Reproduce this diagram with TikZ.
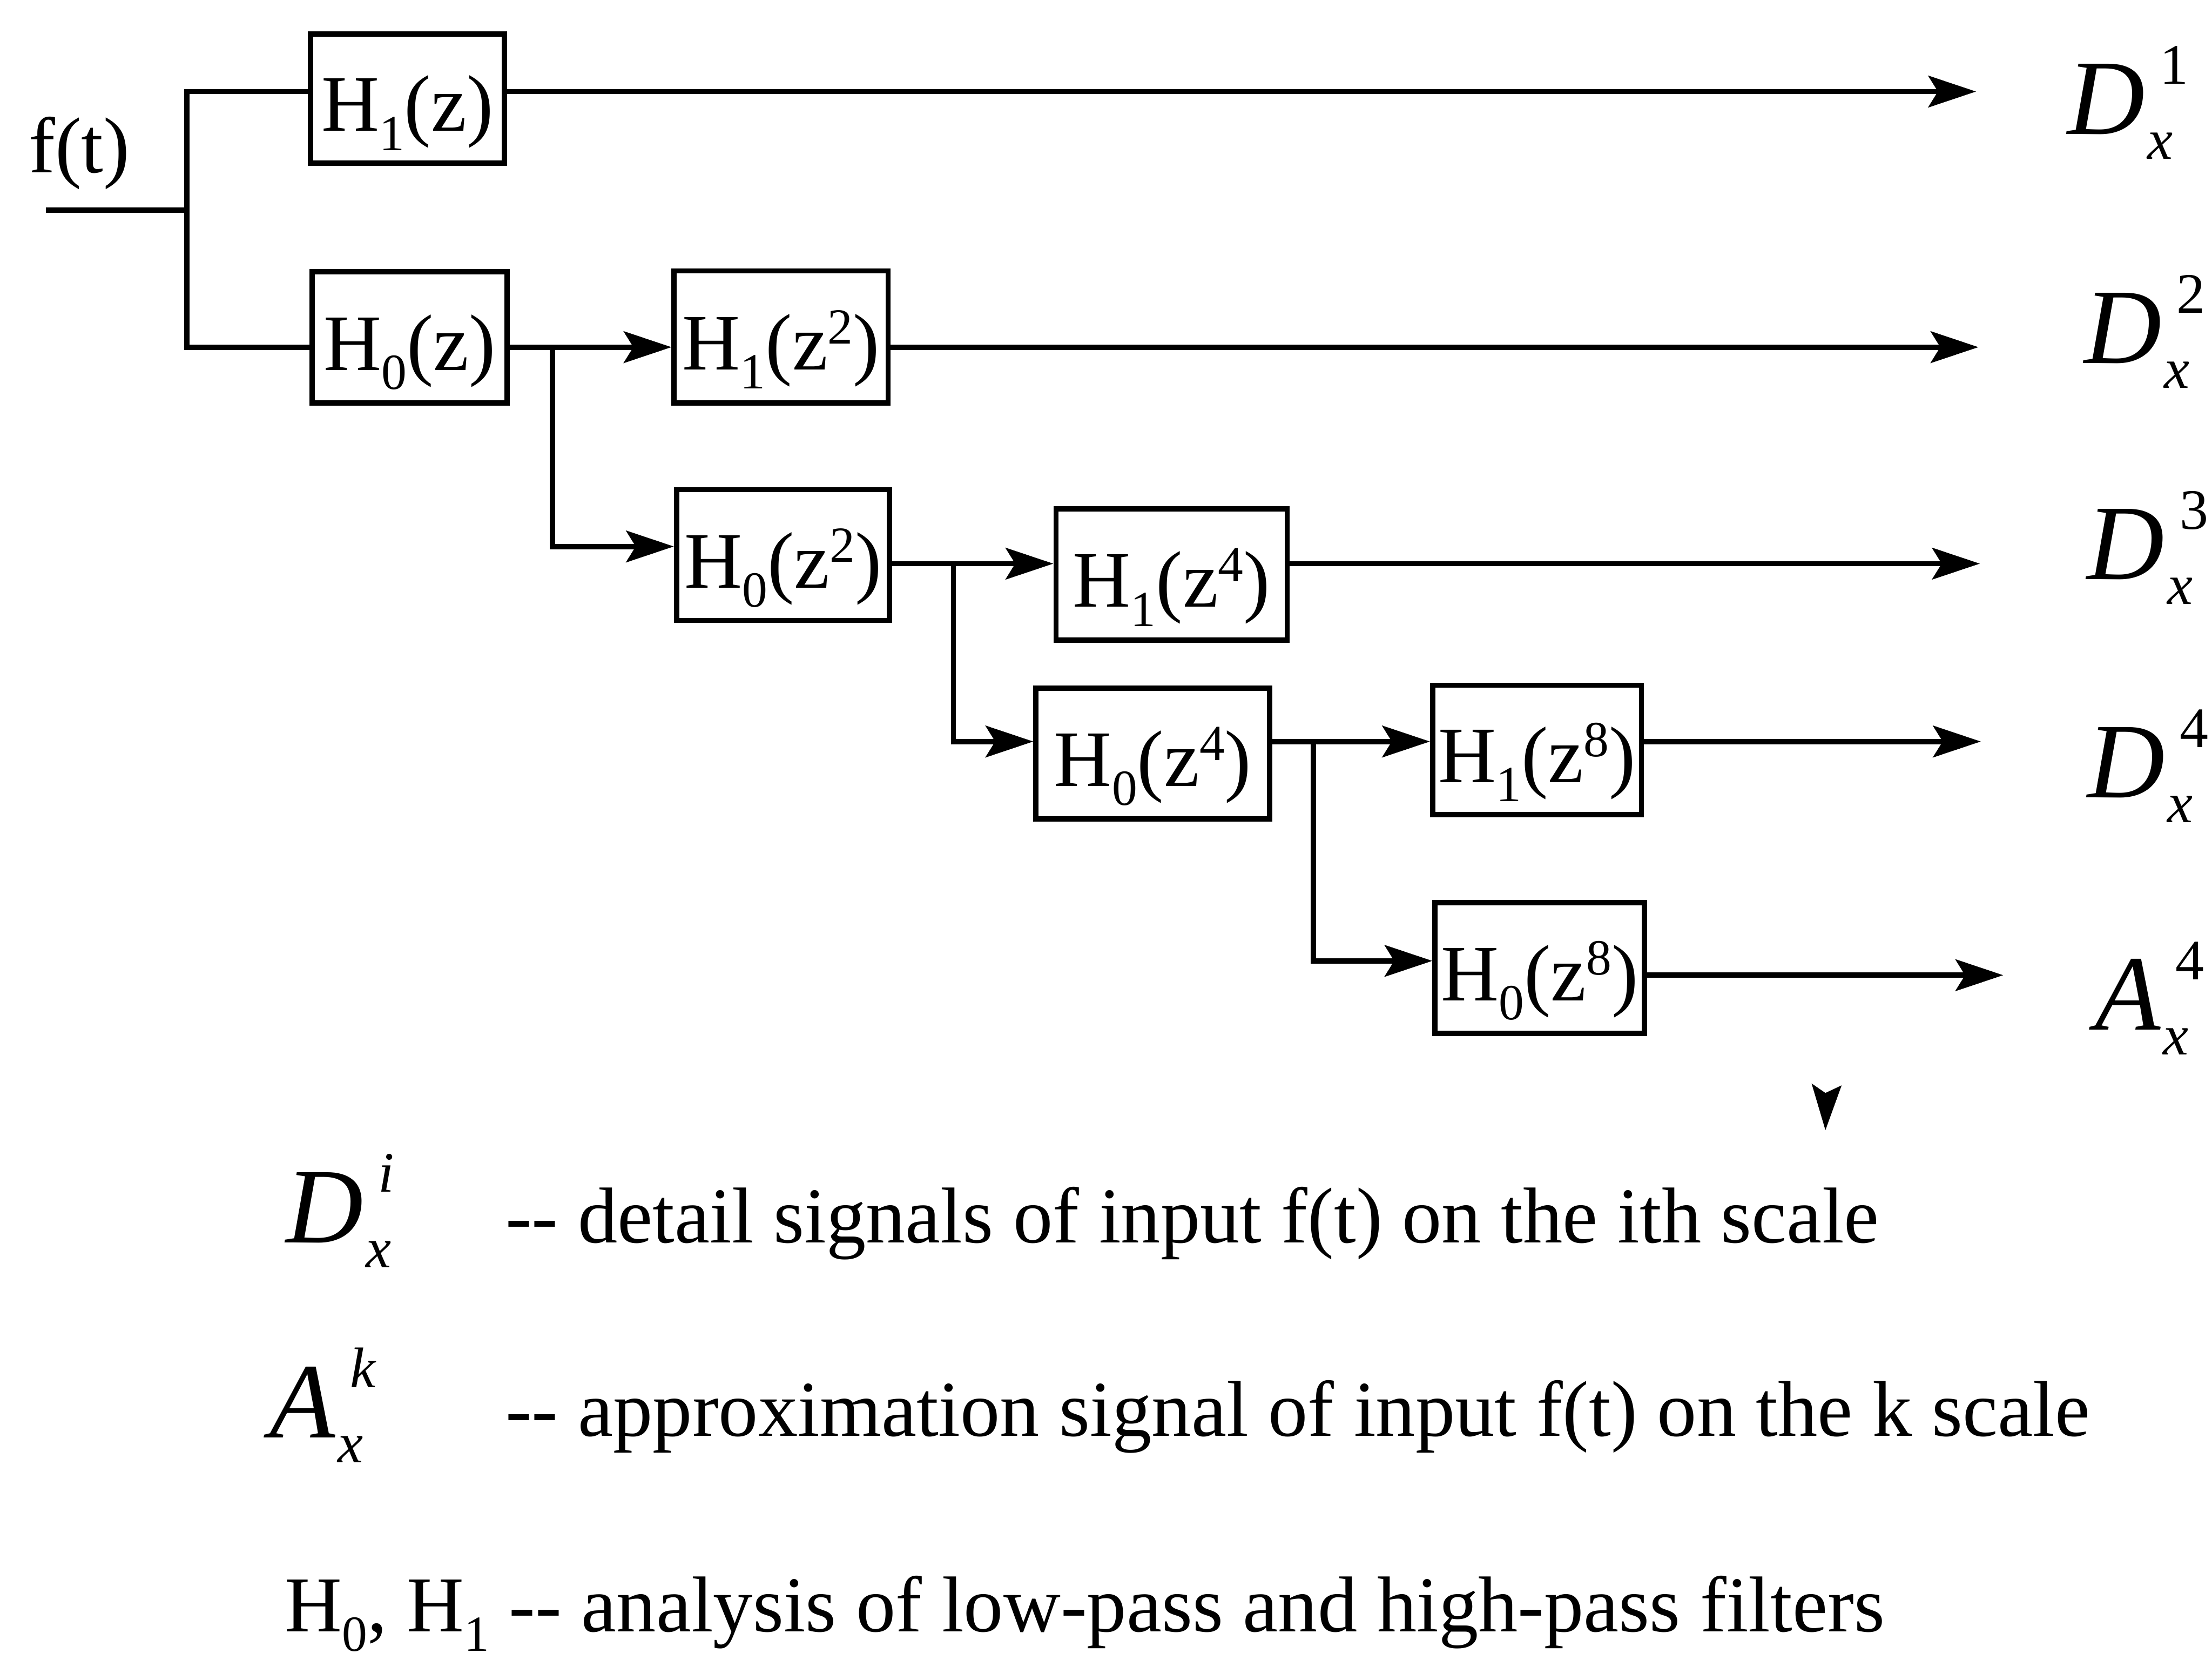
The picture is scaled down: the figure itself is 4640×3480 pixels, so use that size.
\documentclass[tikz,border=0pt]{standalone}
\usepackage{fontspec}
\setmainfont{Liberation Serif}
\usetikzlibrary{arrows.meta}
\newcommand{\sbx}[1]{\raisebox{-4pt}{\fontsize{10.6}{10.6}\selectfont #1}}
\newcommand{\spx}[1]{\raisebox{5.4pt}{\fontsize{10.6}{10.6}\selectfont #1}}
\newcommand{\mlab}[3]{{\fontsize{22.5}{22.5}\selectfont\itshape #1}\rlap{\hspace{3.2pt}\raisebox{10.6pt}{\fontsize{12}{12}\selectfont #2}}\hspace{0.6pt}\raisebox{-5.2pt}{\fontsize{12}{12}\selectfont\itshape #3}}
\begin{document}
\begin{tikzpicture}[x=0.1pt,y=-0.1pt, line width=1.1pt,
 filt/.style={draw, line width=1.1pt, inner sep=0pt, text height=15.7pt, text depth=2pt, font=\fontsize{16.8}{16.8}\selectfont},
 arr/.style={-{Stealth[length=10pt,width=6.6pt,inset=2pt]}},
 lab/.style={anchor=base west, inner sep=0pt},
 txt/.style={anchor=base west, inner sep=0pt, font=\fontsize{16.6}{16.6}\selectfont}]
\useasboundingbox (0,0) rectangle (4640,3480);
% filter boxes
\node[filt, minimum width=40.7pt, minimum height=27.1pt] (H1z)  at (854.5,206.5) {H\sbx{1}(z)};
\node[filt, minimum width=40.9pt, minimum height=27.5pt] (H0z)  at (859.5,707.5) {H\sbx{0}(z)};
\node[filt, minimum width=44.9pt, minimum height=27.7pt] (H1z2) at (1638.5,706.5) {H\sbx{1}(z\spx{2})};
\node[filt, minimum width=44.7pt, minimum height=27.4pt] (H0z2) at (1642.5,1164) {H\sbx{0}(z\spx{2})};
\node[filt, minimum width=48.5pt, minimum height=27.5pt] (H1z4) at (2457.5,1204.5) {H\sbx{1}(z\spx{4})};
\node[filt, minimum width=49.0pt, minimum height=27.4pt] (H0z4) at (2418,1580) {H\sbx{0}(z\spx{4})};
\node[filt, minimum width=43.8pt, minimum height=27.1pt] (H1z8) at (3224,1572.5) {H\sbx{1}(z\spx{8})};
\node[filt, minimum width=43.9pt, minimum height=27.4pt] (H0z8) at (3229.5,2030) {H\sbx{0}(z\spx{8})};
% coordinates
\coordinate (in) at (96,441);
\coordinate (j0) at (392,441);
\coordinate (jA) at (1159,728);
\coordinate (jB) at (2000,1182);
\coordinate (jC) at (2755,1555);
\coordinate (t1) at (4145,192);
\coordinate (t2) at (4150,728);
\coordinate (t3) at (4153,1182);
\coordinate (t4) at (4155,1555);
\coordinate (t5) at (4202,2045);
% connectors
\draw (in) -- (j0);
\draw (j0) |- (H1z.west |- t1);
\draw (j0) |- (H0z.west |- t2);
\draw[arr] (H1z.east |- t1) -- (t1);
\draw[arr] (H0z.east |- t2) -- (H1z2.west |- t2);
\draw[arr] (H1z2.east |- t2) -- (t2);
\draw[arr] (jA) |- ([yshift=1.8pt]H0z2.west);
\draw[arr] (H0z2.east |- jB) -- (H1z4.west |- jB);
\draw[arr] (H1z4.east |- t3) -- (t3);
\draw[arr] (jB) |- (H0z4.west |- jC);
\draw[arr] (H0z4.east |- jC) -- (H1z8.west |- jC);
\draw[arr] (H1z8.east |- t4) -- (t4);
\draw[arr] (jC) |- ([yshift=1.5pt]H0z8.west);
\draw[arr] (H0z8.east |- t5) -- (t5);
% stray arrow tip
\fill (3800,2272) -- (3829,2292) -- (3863,2276) -- (3829,2370) -- cycle;
% labels
\node[txt] (ft) at (55,362) {f(t)};
\node[lab] (d1) at (4331,282) {\mlab{D}{1}{x}};
\node[lab] (d2) at (4366,762) {\mlab{D}{2}{x}};
\node[lab] (d3) at (4372,1215) {\mlab{D}{3}{x}};
\node[lab] (d4) at (4373,1673) {\mlab{D}{4}{x}};
\node[lab] (a4) at (4389,2160) {\mlab{A}{4}{x}};
% legend
\node[lab] (dl) at (594,2606) {\mlab{D}{\itshape i}{x}};
\node[lab] (al) at (560,3015) {\mlab{A}{\itshape k}{x}};
\node[txt] (l1) at (1055,2606) {-{}- detail signals of input f(t) on the ith scale};
\node[txt] (l2) at (1055,3012) {-{}- approximation signal of input f(t) on the k scale};
\node[txt] (l3) at (592,3422) {H\sbx{0}, H\sbx{1} -{}- analysis of low-pass and high-pass filters};
\end{tikzpicture}
\end{document}
